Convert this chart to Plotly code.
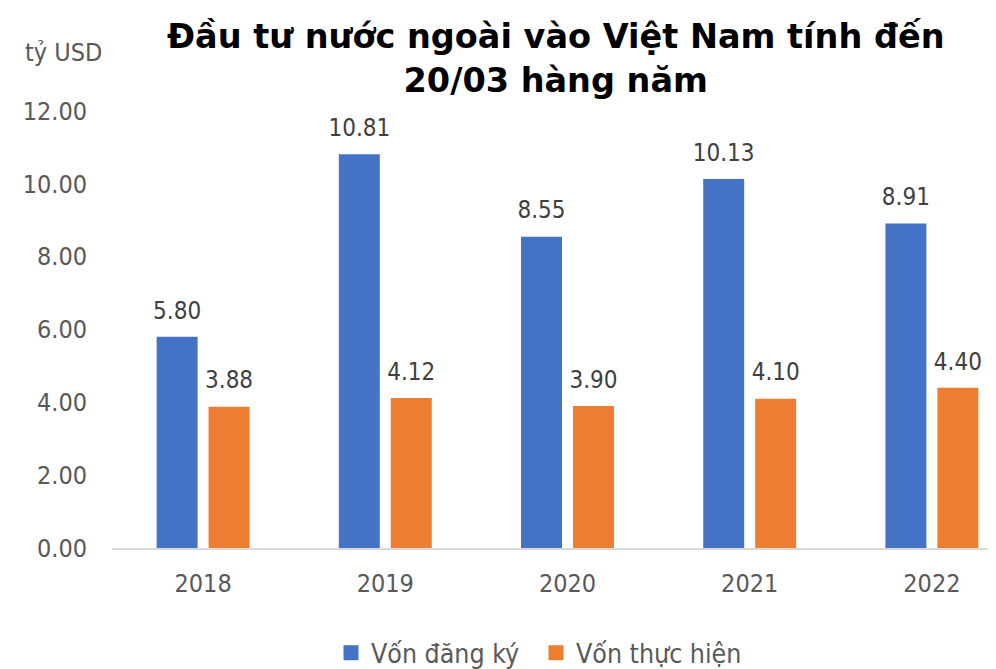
import plotly.graph_objects as go

years = ["2018", "2019", "2020", "2021", "2022"]
von_dang_ky = [5.80, 10.81, 8.55, 10.13, 8.91]
von_thuc_hien = [3.88, 4.12, 3.90, 4.10, 4.40]
series_names = ["Vốn đăng ký", "Vốn thực hiện"]
colors = ["#4472C4", "#ED7D31"]
title_text = "Đầu tư nước ngoài vào Việt Nam tính đến<br>20/03 hàng năm"
unit_text = "tỷ USD"

FONT = "DejaVu Sans Condensed, Liberation Sans"
TFONT = "DejaVu Sans"
# page has an 8px body margin; size the figure to fill the visible window
W, H = 988, 661
L, R, T, B = 104, 0, 103, 121
pw, ph = W - L - R, H - T - B
GAP = 0.4295

def px_y(y):
    return (H - B - y) / ph

def px_x(x):
    return (x - L) / pw

series = [von_dang_ky, von_thuc_hien]
fig = go.Figure()
for vals, name, col in zip(series, series_names, colors):
    fig.add_trace(go.Bar(
        x=years, y=vals, name=name, showlegend=False,
        marker=dict(color=col, line=dict(width=0)),
        hoverinfo="x+y",
    ))
for vals, name in zip(series, series_names):
    fig.add_trace(go.Scatter(
        x=years, y=vals, name=name, mode="markers+text", showlegend=False,
        marker=dict(size=18, opacity=0),
        text=[f"{v:.2f}" for v in vals], textposition="top center",
        textfont=dict(family=FONT, size=24, color="#404040"),
        cliponaxis=False, hoverinfo="skip",
    ))
# legend-only entries (on a hidden overlay axis so they don't affect grouping)
for name, col in zip(series_names, colors):
    fig.add_trace(go.Scatter(
        x=[None], y=[None], name=name, mode="markers", xaxis="x2", yaxis="y2",
        marker=dict(symbol="square", size=15, color=col),
    ))

fig.update_layout(
    width=W, height=H,
    margin=dict(l=L, r=R, t=T, b=B, autoexpand=False),
    paper_bgcolor="white", plot_bgcolor="white",
    barmode="group", bargap=GAP, bargroupgap=0.2115,
    scattermode="group", scattergap=GAP,
    font=dict(family=FONT, color="#595959"),
    showlegend=True,
    legend=dict(orientation="h", x=px_x(528), xanchor="center",
                y=px_y(645), yanchor="middle",
                font=dict(family=FONT, size=26.5, color="#595959"),
                itemwidth=30, traceorder="normal",
                entrywidth=160, entrywidthmode="pixels"),
    xaxis=dict(range=[-0.5, 4.5 - 27 / 182.3], showgrid=False, showline=True,
               linecolor="#D9D9D9", linewidth=2, ticks="",
               tickfont=dict(family=FONT, size=25, color="#595959"),
               ticklabelstandoff=12, zeroline=False),
    yaxis=dict(range=[0, 12], dtick=2, tickformat=".2f", showgrid=False,
               showline=False, zeroline=False, ticks="",
               tickfont=dict(family=FONT, size=25, color="#595959"),
               ticklabelstandoff=24),
    xaxis2=dict(overlaying="x", visible=False, range=[0, 1]),
    yaxis2=dict(overlaying="y", visible=False, range=[0, 1]),
    annotations=[
        dict(text=title_text, xref="paper", yref="paper",
             x=px_x(548), xanchor="center", y=px_y(50), yanchor="middle",
             showarrow=False, align="center",
             font=dict(family=TFONT, size=33.5, color="black", weight="bold")),
        dict(text=unit_text, xref="paper", yref="paper",
             x=px_x(15), xanchor="left", y=px_y(44), yanchor="middle",
             showarrow=False,
             font=dict(family=FONT, size=25, color="#595959")),
    ],
)

fig.write_html("out.html")
